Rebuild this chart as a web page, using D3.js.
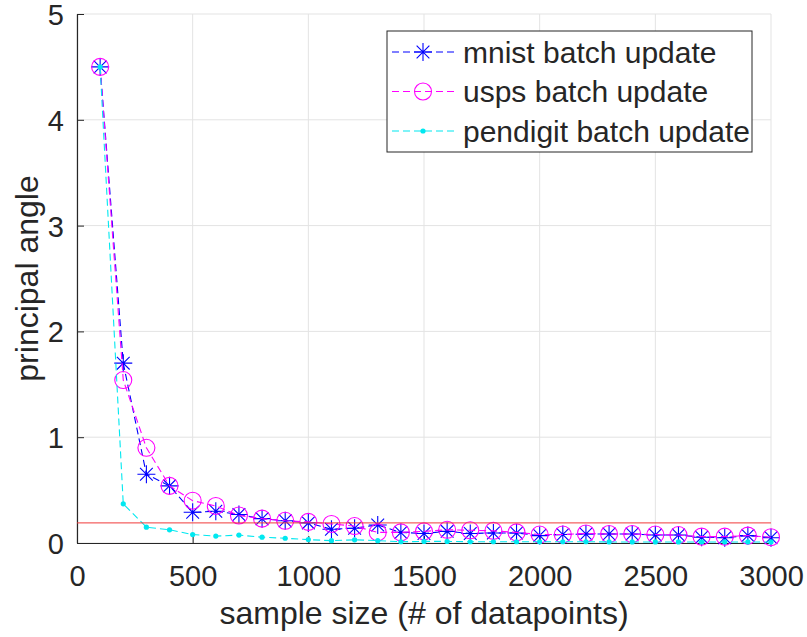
<!DOCTYPE html>
<html>
<head>
<meta charset="utf-8">
<script src="https://cdn.jsdelivr.net/npm/d3@7"></script>
<style>
  body { margin: 0; background: #fff; }
  text { font-family: "Liberation Sans", Arial, sans-serif; fill: #262626; }
</style>
</head>
<body>
<div id="chart"></div>
<script>
// sample sizes (x values)
var sampleSizes = [100, 200, 300, 400, 500, 600, 700, 800, 900, 1000,
  1100, 1200, 1300, 1400, 1500, 1600, 1700, 1800, 1900, 2000,
  2100, 2200, 2300, 2400, 2500, 2600, 2700, 2800, 2900, 3000];

// principal angle per dataset
var mnist = [4.5, 1.7, 0.65, 0.54, 0.29, 0.30, 0.27, 0.23, 0.21, 0.19,
  0.13, 0.14, 0.17, 0.10, 0.09, 0.11, 0.09, 0.095, 0.095, 0.07,
  0.08, 0.085, 0.085, 0.085, 0.075, 0.075, 0.055, 0.05, 0.07, 0.05];
var usps = [4.5, 1.54, 0.9, 0.54, 0.40, 0.35, 0.26, 0.23, 0.21, 0.20,
  0.18, 0.16, 0.10, 0.10, 0.11, 0.125, 0.12, 0.115, 0.10, 0.08,
  0.08, 0.09, 0.085, 0.085, 0.08, 0.075, 0.06, 0.06, 0.07, 0.055];
var pendigit = [4.5, 0.37, 0.15, 0.125, 0.08, 0.065, 0.075, 0.055, 0.045, 0.032,
  0.022, 0.03, 0.022, 0.012, 0.015, 0.015, 0.012, 0.012, 0.012, 0.012,
  0.012, 0.012, 0.01, 0.01, 0.01, 0.01, 0.01, 0.01, 0.01, 0.01];

var threshold = 0.19;

var xTicks = [0, 500, 1000, 1500, 2000, 2500, 3000];
var yTicks = [0, 1, 2, 3, 4, 5];
var seriesNames = ["mnist batch update", "usps batch update", "pendigit batch update"];

var width = 807, height = 637;
var margin = { top: 14, right: 36, bottom: 94, left: 77 };
var innerW = width - margin.left - margin.right,
  innerH = height - margin.top - margin.bottom;

var x = d3.scaleLinear().domain([0, 3000]).range([0, innerW]);
var y = d3.scaleLinear().domain([0, 5]).range([innerH, 0]);

var svg = d3.select("#chart").append("svg")
  .attr("width", width)
  .attr("height", height);

var g = svg.append("g")
  .attr("transform", "translate(" + margin.left + "," + margin.top + ")");

// grid
g.selectAll(".gx").data(xTicks).join("line")
  .attr("x1", d => x(d)).attr("x2", d => x(d))
  .attr("y1", 0).attr("y2", innerH)
  .attr("stroke", "#e3e3e3").attr("stroke-width", 1);
g.selectAll(".gy").data(yTicks).join("line")
  .attr("y1", d => y(d)).attr("y2", d => y(d))
  .attr("x1", 0).attr("x2", innerW)
  .attr("stroke", "#e3e3e3").attr("stroke-width", 1);

// axes
var xAxis = d3.axisBottom(x).tickValues(xTicks).tickSizeInner(-7).tickSizeOuter(0).tickFormat(d3.format("d"));
var yAxis = d3.axisLeft(y).tickValues(yTicks).tickSizeInner(-7).tickSizeOuter(0).tickFormat(d3.format("d"));

var gx = g.append("g").attr("transform", "translate(0," + innerH + ")").call(xAxis);
var gy = g.append("g").call(yAxis);
[gx, gy].forEach(function (a) {
  a.attr("font-size", null).attr("font-family", null);
  a.select(".domain").attr("stroke", "#262626").attr("stroke-width", 1.2);
  a.selectAll(".tick line").attr("stroke", "#262626");
  a.selectAll(".tick text")
    .attr("font-size", 29)
    .attr("fill", "#262626");
});
gx.selectAll(".tick text").attr("y", 43).attr("dy", null);
gy.selectAll(".tick text").attr("x", -13).attr("dy", "0.36em");

// axis labels
svg.append("text")
  .attr("x", margin.left + innerW / 2)
  .attr("y", 624)
  .attr("text-anchor", "middle")
  .attr("font-size", 32)
  .text("sample size (# of datapoints)");
svg.append("text")
  .attr("transform", "translate(38," + (margin.top + innerH / 2) + ") rotate(-90)")
  .attr("text-anchor", "middle")
  .attr("font-size", 32)
  .text("principal angle");

// markers
function starPath(r) {
  var d = r * Math.SQRT1_2;
  return "M" + -r + ",0L" + r + ",0M0," + -r + "L0," + r +
    "M" + -d + "," + -d + "L" + d + "," + d +
    "M" + -d + "," + d + "L" + d + "," + -d;
}

var series = [
  { name: seriesNames[0], values: mnist, color: "#0000ff", marker: "star" },
  { name: seriesNames[1], values: usps, color: "#ff00ff", marker: "circle" },
  { name: seriesNames[2], values: pendigit, color: "#00e8f0", marker: "dot" }
];

var line = d3.line()
  .x((d, i) => x(sampleSizes[i]))
  .y(d => y(d));

function drawMarker(sel, s) {
  if (s.marker === "star") {
    sel.append("path").attr("d", starPath(9))
      .attr("stroke", s.color).attr("stroke-width", 1.1).attr("fill", "none");
  } else if (s.marker === "circle") {
    sel.append("circle").attr("r", 8.5)
      .attr("stroke", s.color).attr("stroke-width", 1.1).attr("fill", "none");
  } else {
    sel.append("circle").attr("r", 2.6).attr("fill", s.color);
  }
}

series.forEach(function (s) {
  g.append("path")
    .datum(s.values)
    .attr("d", line)
    .attr("fill", "none")
    .attr("stroke", s.color)
    .attr("stroke-width", 1.1)
    .attr("stroke-dasharray", "7,4");
  g.selectAll(null).data(s.values).join("g")
    .attr("transform", (d, i) => "translate(" + x(sampleSizes[i]) + "," + y(d) + ")")
    .each(function () { drawMarker(d3.select(this), s); });
});

// threshold line
g.append("line")
  .attr("x1", 0).attr("x2", innerW)
  .attr("y1", y(threshold)).attr("y2", y(threshold))
  .attr("stroke", "#f03a3a").attr("stroke-width", 1);

// legend
var leg = svg.append("g").attr("transform", "translate(387,31)");
leg.append("rect")
  .attr("width", 365).attr("height", 121)
  .attr("fill", "#fff").attr("stroke", "#262626").attr("stroke-width", 1);
series.forEach(function (s, i) {
  var row = leg.append("g").attr("transform", "translate(0," + (21 + i * 39.5) + ")");
  row.append("line")
    .attr("x1", 5).attr("x2", 67)
    .attr("stroke", s.color).attr("stroke-width", 1.1)
    .attr("stroke-dasharray", "7,4");
  var m = row.append("g").attr("transform", "translate(36,0)");
  drawMarker(m, s);
  row.append("text")
    .attr("x", 76).attr("dy", "0.36em")
    .attr("font-size", 30)
    .attr("fill", "#111")
    .text(s.name);
});
</script>
</body>
</html>
